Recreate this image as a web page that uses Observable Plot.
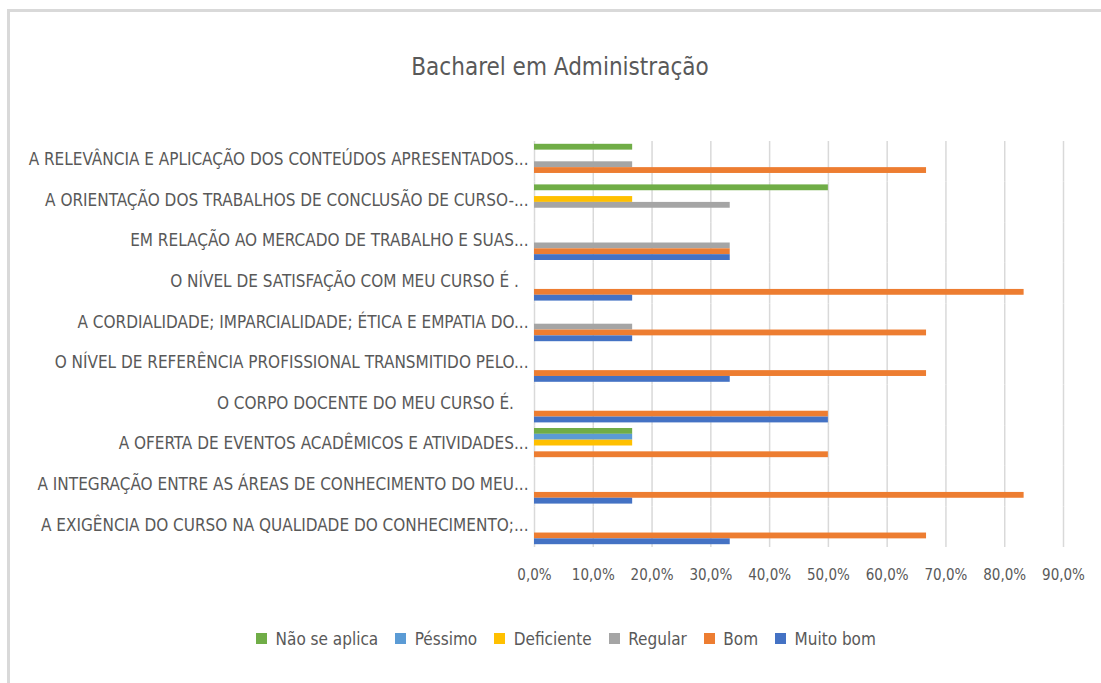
<!DOCTYPE html>
<html>
<head>
<meta charset="utf-8">
<script src="https://cdn.jsdelivr.net/npm/d3@7"></script>
<script src="https://cdn.jsdelivr.net/npm/@observablehq/plot@0.6"></script>
<style>
  html, body { margin: 0; padding: 0; background: #fff; }
  body { width: 1101px; height: 683px; position: relative; overflow: hidden;
         font-family: "Liberation Sans Narrow", "DejaVu Sans Condensed", sans-serif; }
  #frame { position: absolute; left: 7px; top: 9px; width: 1094px; height: 674px;
           border-top: 3px solid #d9d9d9; border-left: 3px solid #d9d9d9; }
  #title { position: absolute; left: 0; width: 1120px; top: 53px; text-align: center;
           font-size: 24px; color: #595959; }
  #chart { position: absolute; left: 0; top: 100px; }
  #legend { position: absolute; left: 24px; width: 1101px; top: 622px; display: flex; justify-content: center; }
</style>
</head>
<body>
<div id="frame"></div>
<div id="title">Bacharel em Administração</div>
<div id="chart"></div>
<div id="legend"></div>
<script>
const categories = [
  "A RELEVÂNCIA E APLICAÇÃO DOS CONTEÚDOS APRESENTADOS...",
  "A ORIENTAÇÃO DOS TRABALHOS DE CONCLUSÃO DE CURSO-...",
  "EM RELAÇÃO AO MERCADO DE TRABALHO E SUAS...",
  "O NÍVEL DE SATISFAÇÃO COM MEU CURSO É .\u00a0\u00a0",
  "A CORDIALIDADE; IMPARCIALIDADE; ÉTICA E EMPATIA DO...",
  "O NÍVEL DE REFERÊNCIA PROFISSIONAL TRANSMITIDO PELO...",
  "O CORPO DOCENTE DO MEU CURSO É.\u00a0\u00a0\u00a0",
  "A OFERTA DE EVENTOS ACADÊMICOS E ATIVIDADES...",
  "A INTEGRAÇÃO ENTRE AS ÁREAS DE CONHECIMENTO DO MEU...",
  "A EXIGÊNCIA DO CURSO NA QUALIDADE DO CONHECIMENTO;..."
];
const seriesNames = ["Não se aplica", "Péssimo", "Deficiente", "Regular", "Bom", "Muito bom"];
const seriesColors = ["#70AD47", "#5B9BD5", "#FFC000", "#A5A5A5", "#ED7D31", "#4472C4"];
// values in percent, in category order (top to bottom)
const naoSeAplica = [16.7, 50.0, 0, 0, 0, 0, 0, 16.7, 0, 0];
const pessimo     = [0, 0, 0, 0, 0, 0, 0, 16.7, 0, 0];
const deficiente  = [0, 16.7, 0, 0, 0, 0, 0, 16.7, 0, 0];
const regular     = [16.7, 33.3, 33.3, 0, 16.7, 0, 0, 0, 0, 0];
const bom         = [66.7, 0, 33.3, 83.3, 66.7, 66.7, 50.0, 50.0, 83.3, 66.7];
const muitoBom    = [0, 0, 33.3, 16.7, 16.7, 33.3, 50.0, 0, 16.7, 33.3];
const xTicks = [0, 10, 20, 30, 40, 50, 60, 70, 80, 90];

const seriesValues = [naoSeAplica, pessimo, deficiente, regular, bom, muitoBom];
const data = [];
categories.forEach((c, i) => {
  seriesNames.forEach((s, j) => {
    data.push({category: c, series: s, value: seriesValues[j][i] / 100});
  });
});

const fmt = v => (v * 100).toFixed(1).replace(".", ",") + "%";
const font = '"Liberation Sans Narrow", "DejaVu Sans Condensed", sans-serif';

const chart = Plot.plot({
  width: 1101,
  height: 500,
  marginLeft: 534,
  marginRight: 38,
  marginTop: 41,
  marginBottom: 53,
  style: {fontFamily: font, color: "#595959", background: "transparent"},
  x: {domain: [0, 0.9], ticks: xTicks.map(d => d / 100), tickFormat: fmt, label: null},
  y: {domain: seriesNames, axis: null, paddingInner: 0, paddingOuter: 0.48, round: false},
  fy: {domain: categories, paddingInner: 0, paddingOuter: 0, round: false, label: null},
  color: {domain: seriesNames, range: seriesColors},
  marks: [
    Plot.ruleX(xTicks.map(d => d / 100), {stroke: "#d9d9d9", strokeWidth: 1.5}),
    Plot.barX(data, {x: "value", y: "series", fy: "category", fill: "series", insetTop: 0, insetBottom: 0}),
    Plot.axisFy({anchor: "left", tickSize: 0, tickPadding: 6, fontSize: 17, label: null, dy: -2}),
    Plot.axisX({anchor: "bottom", ticks: xTicks.map(d => d / 100), tickFormat: fmt, tickSize: 0, tickPadding: 22, fontSize: 15, label: null, facetAnchor: "bottom"})
  ]
});
document.getElementById("chart").appendChild(chart);

const legend = Plot.legend({
  color: {domain: seriesNames, range: seriesColors},
  legend: "swatches",
  swatchSize: 11,
  style: {fontFamily: font, fontSize: "17px", color: "#595959"}
});
document.getElementById("legend").appendChild(legend);
</script>
</body>
</html>
